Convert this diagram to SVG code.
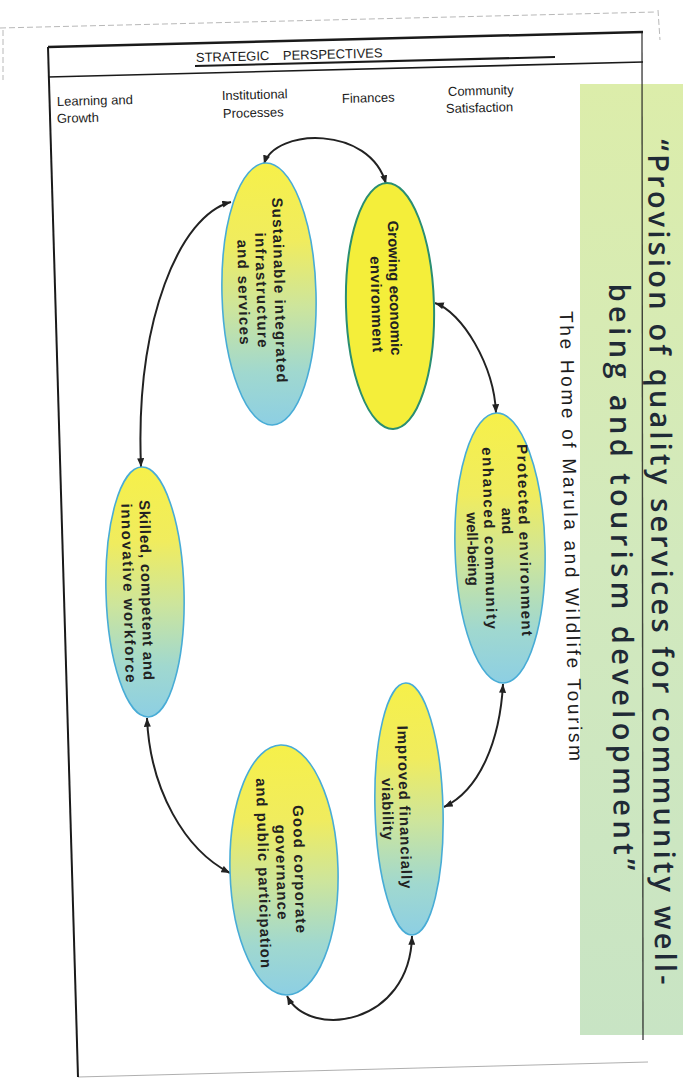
<svg xmlns="http://www.w3.org/2000/svg" width="689" height="1088" viewBox="0 0 689 1088">
  <style>
    .frame { stroke: #1a1a1a; fill: none; }
    .edge { stroke: #b8b8b8; fill: none; stroke-width: 1; stroke-dasharray: 6 3; }
    .hdr { font-family: "Liberation Sans", Arial, sans-serif; font-size: 13px; fill: #1c1c1c; }
    .title { font-family: "Liberation Sans", Arial, sans-serif; font-size: 13px; fill: #1c1c1c; }
    .node ellipse.grad { fill: url(#yb); stroke: #48acd6; stroke-width: 1.6; }
    .node ellipse.solid { fill: #f4ee3a; stroke: #2a8e72; stroke-width: 2; }
    .lbl { font-family: "Liberation Sans", Arial, sans-serif; font-size: 15px; font-weight: bold; fill: #222; text-anchor: middle; dominant-baseline: central; }
    .conn path { fill: none; stroke: #222; stroke-width: 2; marker-start: url(#ah); marker-end: url(#ah); }
    .banner { font-family: "Open Sans", "Noto Sans", sans-serif; font-size: 29px; font-weight: 600; fill: #1f2a36; text-anchor: middle; dominant-baseline: central; }
    .sub { font-family: "Liberation Sans", Arial, sans-serif; font-size: 19px; fill: #1c1c1c; text-anchor: middle; dominant-baseline: central; }
  </style>
  <defs>
    <linearGradient id="yb" x1="0" y1="0" x2="0" y2="1">
      <stop offset="0" stop-color="#f6f04a"/>
      <stop offset="0.3" stop-color="#f0ec5e"/>
      <stop offset="0.55" stop-color="#cde59c"/>
      <stop offset="0.8" stop-color="#a0d8cf"/>
      <stop offset="1" stop-color="#8dcfe3"/>
    </linearGradient>
    <linearGradient id="bn" x1="0" y1="0" x2="0" y2="1">
      <stop offset="0" stop-color="#dcedaa"/>
      <stop offset="0.5" stop-color="#d2e9bd"/>
      <stop offset="1" stop-color="#c8e4c4"/>
    </linearGradient>
    <marker id="ah" viewBox="0 0 10 8" refX="10" refY="4" markerWidth="9" markerHeight="7" markerUnits="userSpaceOnUse" orient="auto-start-reverse">
      <path d="M0,0 L10,4 L0,8 z" fill="#222"/>
    </marker>
  </defs>

  <rect width="689" height="1088" fill="#ffffff"/>

  <!-- scanned page edges -->
  <path class="edge" d="M0,28 L656,12"/>
  <path class="edge" d="M658,10 L660,40"/>
  <path class="edge" d="M3,30 L3,80"/>

  <!-- banner -->
  <g id="banner">
    <rect x="580" y="84" width="103" height="951" fill="url(#bn)"/>
    <text class="banner" transform="translate(663,562) rotate(89.5)" textLength="845" lengthAdjust="spacing">“Provision of quality services for community well-</text>
    <text class="banner" transform="translate(623,577) rotate(89.5)" textLength="587" lengthAdjust="spacing">being and tourism development”</text>
    <text class="sub" transform="translate(571,536) rotate(88.8)" textLength="450" lengthAdjust="spacing">The Home of Marula and Wildlife Tourism</text>
  </g>

  <!-- frame -->
  <g id="frame">
    <path class="frame" stroke-width="2.5" d="M48,47 L643,32"/>
    <path class="frame" stroke-width="2" d="M48,47 L78,1077"/>
    <path class="frame" stroke-width="1.6" d="M48,77 L643,62"/>
    <path class="frame" stroke-width="1.4" opacity="0.8" d="M642,33 L643,1040"/>
    <path class="frame" stroke-width="1" opacity="0.35" d="M78,1077 L648,1062"/>
    <path class="frame" stroke-width="2" d="M195,66 L555,57"/>
  </g>

  <!-- headers -->
  <g id="headers">
    <text class="title" transform="translate(196,62) rotate(-1.5)">STRATEGIC</text>
    <text class="title" transform="translate(283,60) rotate(-1.5)">PERSPECTIVES</text>
    <text class="hdr" transform="translate(57,106) rotate(-1.5)">Learning and</text>
    <text class="hdr" transform="translate(57,123) rotate(-1.5)">Growth</text>
    <text class="hdr" transform="translate(222,100) rotate(-1.5)">Institutional</text>
    <text class="hdr" transform="translate(223,118) rotate(-1.5)">Processes</text>
    <text class="hdr" transform="translate(342,103) rotate(-1.5)">Finances</text>
    <text class="hdr" transform="translate(448,96) rotate(-1.5)">Community</text>
    <text class="hdr" transform="translate(446,113) rotate(-1.5)">Satisfaction</text>
  </g>

  <!-- connectors -->
  <g id="connectors" class="conn">
    <path d="M264,164 C275,128 370,125 386,184"/>
    <path d="M435,303 C462,312 494,365 496,413"/>
    <path d="M503,684 C500,740 480,790 444,807"/>
    <path d="M412,936 C410,1025 310,1040 287,996"/>
    <path d="M230,873 C185,850 150,790 147,718"/>
    <path d="M141,467 C135,320 180,215 231,202"/>
  </g>

  <!-- nodes -->
  <g id="node-infrastructure" class="node">
    <ellipse class="grad" cx="269" cy="294" rx="47" ry="131" transform="rotate(-1.5 269 294)"/>
    <text class="lbl" transform="translate(280,290) rotate(88.5)" textLength="185" lengthAdjust="spacing">Sustainable integrated</text>
    <text class="lbl" transform="translate(262,290) rotate(88.5)" textLength="115" lengthAdjust="spacing">infrastructure</text>
    <text class="lbl" transform="translate(244,292) rotate(88.5)" textLength="105" lengthAdjust="spacing">and services</text>
  </g>

  <g id="node-economic" class="node">
    <ellipse class="solid" cx="390" cy="306" rx="44" ry="123" transform="rotate(-1.5 390 306)"/>
    <text class="lbl" transform="translate(395,288) rotate(88.5)">Growing economic</text>
    <text class="lbl" transform="translate(377,304) rotate(88.5)" textLength="96" lengthAdjust="spacing">environment</text>
  </g>

  <g id="node-protected" class="node">
    <ellipse class="grad" cx="500" cy="548" rx="45" ry="135" transform="rotate(-1.5 500 548)"/>
    <text class="lbl" transform="translate(525,540) rotate(88.5)" textLength="192" lengthAdjust="spacing">Protected environment</text>
    <text class="lbl" transform="translate(507.5,521) rotate(88.5)">and</text>
    <text class="lbl" transform="translate(490,538) rotate(88.5)" textLength="182" lengthAdjust="spacing">enhanced community</text>
    <text class="lbl" transform="translate(473,549) rotate(88.5)">well-being</text>
  </g>

  <g id="node-financial" class="node">
    <ellipse class="grad" cx="409" cy="809" rx="34" ry="126" transform="rotate(-1.5 409 809)"/>
    <text class="lbl" transform="translate(405,807) rotate(88.5)" textLength="163" lengthAdjust="spacing">Improved financially</text>
    <text class="lbl" transform="translate(388,809) rotate(88.5)" textLength="62" lengthAdjust="spacing">viability</text>
  </g>

  <g id="node-governance" class="node">
    <ellipse class="grad" cx="284" cy="870" rx="54" ry="125" transform="rotate(-1.5 284 870)"/>
    <text class="lbl" transform="translate(300,869) rotate(88.5)" textLength="128" lengthAdjust="spacing">Good corporate</text>
    <text class="lbl" transform="translate(282,872) rotate(88.5)" textLength="95" lengthAdjust="spacing">governance</text>
    <text class="lbl" transform="translate(264,873) rotate(88.5)" textLength="190" lengthAdjust="spacing">and public participation</text>
  </g>

  <g id="node-workforce" class="node">
    <ellipse class="grad" cx="145" cy="592" rx="39" ry="125" transform="rotate(-1.5 145 592)"/>
    <text class="lbl" transform="translate(147,590) rotate(88.5)" textLength="180" lengthAdjust="spacing">Skilled, competent and</text>
    <text class="lbl" transform="translate(129,593) rotate(88.5)" textLength="179" lengthAdjust="spacing">innovative workforce</text>
  </g>
</svg>
